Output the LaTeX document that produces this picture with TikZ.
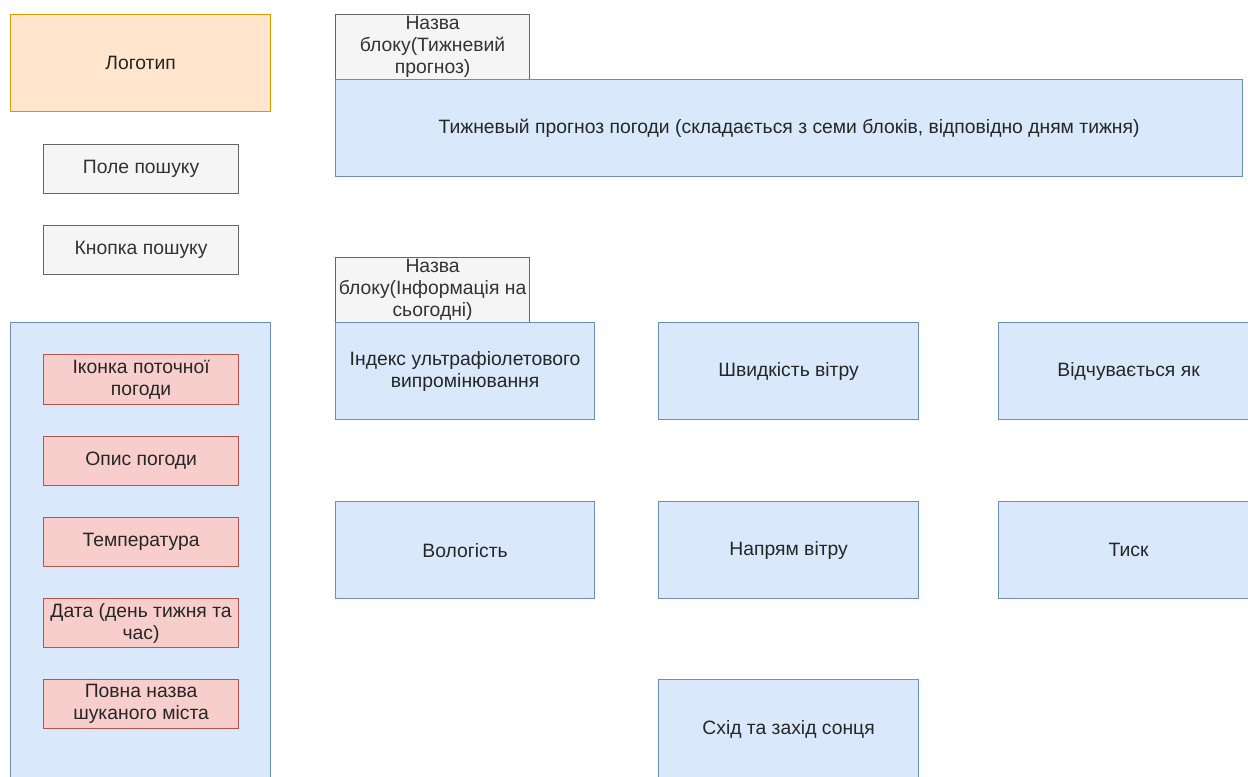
\documentclass[tikz,border=0pt]{standalone}
\usepackage{fontspec}
\setmainfont{Liberation Sans}
\begin{document}
\begin{tikzpicture}[x=0.75pt,y=-0.75pt,
  base/.style={draw, rectangle, anchor=north west, line width=0.9pt, align=center,
    inner sep=0pt, font=\fontsize{14.5pt}{16.6pt}\selectfont, text=basetext},
  orangebox/.style={base, fill=orangefill, draw=orangeline},
  graybox/.style={base, fill=grayfill, draw=grayline, text=graytext},
  bluebox/.style={base, fill=bluefill, draw=blueline},
  redbox/.style={base, fill=redfill, draw=redline},
  sz/.style 2 args={minimum width=#1*0.75pt, minimum height=#2*0.75pt}]
\definecolor{basetext}{HTML}{262626}
\definecolor{orangefill}{HTML}{FFE6CC}
\definecolor{orangeline}{HTML}{D79B00}
\definecolor{grayfill}{HTML}{F5F5F5}
\definecolor{grayline}{HTML}{666666}
\definecolor{graytext}{HTML}{333333}
\definecolor{bluefill}{HTML}{DAE8FC}
\definecolor{blueline}{HTML}{6C8EBF}
\definecolor{redfill}{HTML}{F8CECC}
\definecolor{redline}{HTML}{B85450}
\useasboundingbox (0,0) rectangle (1248,776);
\clip (0,0) rectangle (1248,776);

% left column: logo, search field and button
\node[orangebox, sz={260}{97}] (logo) at (10,14) {Логотип};
\node[graybox, sz={195}{49}] (search) at (43,144) {Поле пошуку};
\node[graybox, sz={195}{49}] (button) at (43,225) {Кнопка пошуку};

% current weather panel
\node[bluebox, sz={260}{470}] (panel) at (10,322) {};
\node[redbox, sz={195}{50}] (icon) at (43,354) {Іконка поточної\\погоди};
\node[redbox, sz={195}{49}] (descr) at (43,436) {Опис погоди};
\node[redbox, sz={195}{49}] (temp) at (43,517) {Температура};
\node[redbox, sz={195}{49}] (date) at (43,598) {Дата (день тижня та\\час)};
\node[redbox, sz={195}{49}] (city) at (43,679) {Повна назва\\шуканого міста};

% weekly forecast block
\node[graybox, sz={194}{65}] (wtitle) at (335,14) {Назва\\блоку(Тижневий\\прогноз)};
\node[bluebox, sz={907}{97}] (week) at (335,79) {Тижневый прогноз погоди (складається з семи блоків, відповідно дням тижня)};

% today's details block
\node[graybox, sz={194}{65}] (ttitle) at (335,257) {Назва\\блоку(Інформація на\\сьогодні)};
\node[bluebox, sz={259}{97}] (uv) at (335,322) {Індекс ультрафіолетового\\випромінювання};
\node[bluebox, sz={260}{97}] (wind) at (658,322) {Швидкість вітру};
\node[bluebox, sz={260}{97}] (feels) at (998,322) {Відчувається як};
\node[bluebox, sz={259}{97}] (hum) at (335,501) {Вологість};
\node[bluebox, sz={260}{97}] (dir) at (658,501) {Напрям вітру};
\node[bluebox, sz={260}{97}] (press) at (998,501) {Тиск};
\node[bluebox, sz={260}{99}] (sun) at (658,679) {Схід та захід сонця};
\end{tikzpicture}
\end{document}
